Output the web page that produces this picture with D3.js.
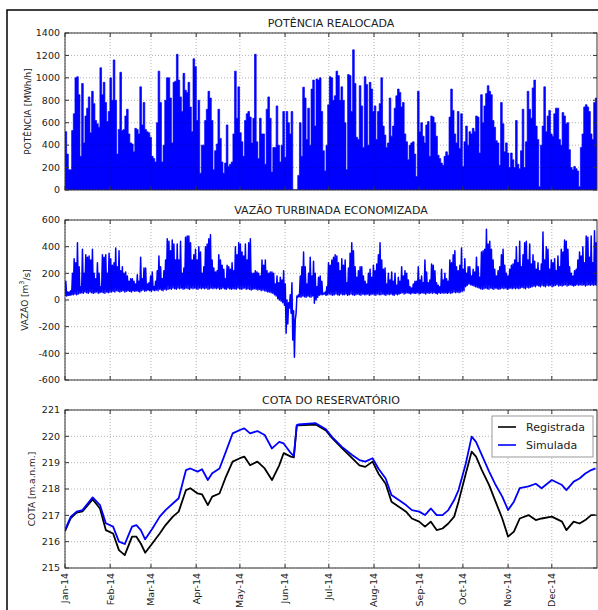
<!DOCTYPE html>
<html><head><meta charset="utf-8">
<script src="https://cdn.jsdelivr.net/npm/d3@7"></script>
<style>
body{margin:0;background:#fff}
text{font-family:"DejaVu Sans",sans-serif;fill:#222}
</style></head><body>
<svg id="fig" width="598" height="610"></svg>
<script>
// Período da simulação
const inicio = new Date(2014, 0, 1), fim = new Date(2015, 0, 1);
const rotulosMeses = ["Jan-14","Feb-14","Mar-14","Apr-14","May-14","Jun-14","Jul-14","Aug-14","Sep-14","Oct-14","Nov-14","Dec-14"];

// Potência realocada [MWh/h], amostras igualmente espaçadas no ano
const potencia = [
520,320,180,180,530,680,1000,1010,850,300,
950,420,660,730,830,510,880,770,620,590,
560,1090,850,960,780,610,700,1000,800,1160,
800,320,540,1050,530,540,660,720,500,420,
410,340,550,540,500,920,580,780,540,520,
510,470,300,280,250,600,1060,780,250,400,
800,1000,1000,820,420,960,970,1210,980,830,
700,1040,890,870,960,740,520,1170,1100,620,
800,150,400,400,620,720,880,820,620,180,
350,410,720,460,250,150,240,580,210,230,
250,500,1060,640,920,510,430,300,620,680,
700,650,420,640,1210,430,280,640,500,500,
230,720,830,640,160,380,380,750,400,250,
400,700,290,700,600,500,700,0,0,0,
130,
600,300,917,820,450,730,400,900,980,570,
990,980,1000,700,350,170,400,760,1010,1000,
800,840,1060,1020,800,920,800,600,180,1030,
1020,700,1250,950,470,450,930,750,380,1010,
940,400,960,900,700,750,450,700,770,1000,
570,490,380,420,820,480,570,730,840,900,
870,740,780,500,430,270,400,420,430,320,
120,880,520,600,480,420,580,610,300,660,
650,600,480,310,280,240,220,300,340,310,
650,900,710,500,420,700,370,680,210,430,
570,400,520,500,550,520,660,650,330,850,
600,750,860,930,880,850,620,560,440,420,
220,780,590,340,420,330,200,330,270,200,
620,230,190,350,720,200,430,880,720,640,
910,980,570,450,30,400,570,920,520,660,
710,500,480,680,730,730,450,400,690,660,
590,600,360,200,180,210,190,170,30,380,
500,740,760,740,700,500,450,780,820,800
];

// Vazão turbinada economizada [m³/s]: máximo e mínimo em cada amostra
const vazaoMax = [
140,60,60,70,200,310,280,430,250,100,
380,200,340,320,330,300,380,200,160,280,
200,100,340,320,340,200,350,310,260,280,
390,250,370,220,250,200,210,180,140,160,
160,140,120,190,140,320,160,240,240,120,
130,180,210,100,140,220,330,250,160,220,
300,460,440,370,450,420,300,420,300,440,
200,240,470,480,480,430,300,340,380,300,
400,360,200,250,400,420,460,490,300,240,
210,220,340,300,260,230,160,260,250,230,
280,220,400,340,430,420,360,330,420,300,
430,460,200,200,220,210,200,180,300,260,
300,220,200,210,210,200,120,180,130,170,
150,220,120,0,-20,40,130,-80,-150,30,
40,
180,250,360,250,120,200,320,180,290,200,
100,170,180,140,50,60,100,280,260,300,
320,340,330,280,220,310,260,300,130,240,
350,430,370,250,170,220,250,250,180,140,
120,200,230,170,260,220,270,340,430,300,
230,240,120,200,150,210,140,200,110,170,
140,250,180,220,200,150,100,90,120,140,
140,250,150,180,130,300,210,130,150,270,
260,220,130,110,100,230,150,200,160,140,
300,280,340,370,250,220,260,390,230,310,
200,250,250,180,230,210,320,250,170,360,
370,380,530,420,440,380,300,230,180,220,
250,340,380,260,200,180,230,260,270,300,
400,280,440,250,340,430,440,300,420,270,
340,290,230,280,220,270,510,300,400,380,
230,300,280,310,220,330,250,380,360,450,
440,380,250,200,180,220,230,300,360,330,
400,280,480,470,320,480,280,520,430,550
];
const vazaoMin = [
30,30,35,35,40,40,45,40,45,50,
55,50,60,55,50,60,55,50,55,60,
50,55,60,55,50,60,55,60,60,65,
60,70,65,60,65,70,60,65,70,65,
60,70,65,70,65,60,70,75,65,70,
75,70,65,75,70,75,70,80,75,70,
80,75,80,85,80,90,85,80,90,85,
90,80,85,90,85,80,90,85,90,85,
80,90,85,90,85,90,80,85,90,85,
90,85,90,80,85,90,85,80,90,85,
80,85,85,80,90,85,80,85,90,80,
85,80,75,80,85,80,75,80,70,75,
70,65,60,60,55,50,40,30,10,0,
-10,-20,-40,-250,-180,-60,-100,-300,-430,-100,
20,
25,20,30,25,20,30,25,20,30,-25,
0,20,35,40,40,45,35,40,45,40,
35,40,45,40,35,45,40,40,45,35,
40,45,40,35,40,45,40,35,45,40,
40,45,35,40,45,40,35,45,40,40,
45,40,35,45,40,45,40,35,45,40,
45,50,55,45,50,55,50,45,55,50,
50,55,45,50,55,50,45,55,50,55,
50,55,50,45,55,50,55,50,55,50,
55,50,55,60,55,60,55,60,65,70,
100,110,120,115,110,105,100,95,90,85,
80,85,90,85,80,90,85,80,90,85,
80,85,90,85,90,80,85,90,85,90,
85,90,85,90,95,90,85,95,90,95,
100,105,100,110,105,100,110,105,100,110,
105,110,100,105,110,115,105,110,105,110,
115,105,110,115,110,105,110,115,110,115,
110,115,105,110,115,110,115,110,115,110
];

// Cota do reservatório [m.a.n.m.]
const cotaDatas = [
"2014-01-01","2014-01-05","2014-01-09","2014-01-13","2014-01-20","2014-01-25","2014-01-29",
"2014-02-03","2014-02-07","2014-02-11","2014-02-16","2014-02-19","2014-02-22","2014-02-25",
"2014-03-02","2014-03-07","2014-03-11","2014-03-16","2014-03-20","2014-03-25","2014-03-28",
"2014-04-02","2014-04-05","2014-04-09","2014-04-12","2014-04-17","2014-04-21","2014-04-26",
"2014-05-01","2014-05-04","2014-05-08","2014-05-13","2014-05-18","2014-05-23","2014-05-28","2014-05-31",
"2014-06-05","2014-06-07","2014-06-09","2014-06-10","2014-06-22","2014-06-29",
"2014-07-03","2014-07-10","2014-07-17","2014-07-22","2014-07-26","2014-07-31",
"2014-08-04","2014-08-09","2014-08-13","2014-08-18","2014-08-23","2014-08-27",
"2014-09-01","2014-09-05","2014-09-09","2014-09-13","2014-09-17","2014-09-21","2014-09-25","2014-09-28",
"2014-10-03","2014-10-07","2014-10-10","2014-10-14","2014-10-19","2014-10-23","2014-10-28",
"2014-11-01","2014-11-05","2014-11-09","2014-11-15","2014-11-20","2014-11-24",
"2014-12-01","2014-12-08","2014-12-11","2014-12-16","2014-12-20","2014-12-24","2014-12-28","2014-12-31"
];
const cotaSimulada = [
216.44,216.95,217.14,217.20,217.68,217.39,216.70,
216.57,216.00,215.91,216.57,216.63,216.44,216.09,
216.50,216.95,217.20,217.45,217.65,218.72,218.78,
218.66,218.75,218.34,218.60,218.78,219.36,220.11,
220.24,220.30,220.11,220.20,220.05,219.54,219.79,219.73,
219.36,219.25,220.43,220.45,220.50,220.27,
219.99,219.60,219.29,219.10,219.04,219.17,
218.78,218.40,217.77,217.58,217.39,217.20,
217.14,217.01,217.26,217.01,217.01,217.20,217.58,217.96,
218.97,219.99,219.79,219.29,218.66,218.20,217.71,
217.20,217.52,218.03,218.10,218.20,218.03,
218.34,218.15,217.96,218.28,218.40,218.59,218.72,218.78
];
const cotaRegistrada = [
216.40,216.90,217.10,217.15,217.60,217.26,216.44,
216.31,215.68,215.49,216.19,216.19,215.93,215.58,
215.94,216.31,216.63,216.95,217.14,217.96,218.03,
217.83,217.80,217.39,217.71,217.83,218.41,219.04,
219.17,219.23,218.90,219.04,218.78,218.34,218.90,219.36,
219.23,219.20,220.40,220.42,220.45,220.22,
219.95,219.55,219.17,218.90,218.84,219.04,
218.59,218.20,217.52,217.33,217.14,216.88,
216.76,216.57,216.76,216.44,216.50,216.69,216.95,217.52,
218.59,219.42,219.23,218.72,218.15,217.58,216.88,
216.19,216.38,216.88,217.01,216.82,216.88,
216.95,216.76,216.44,216.76,216.69,216.82,217.01,217.01
];

const ticksPotencia = [0,200,400,600,800,1000,1200,1400];
const ticksVazao = [-600,-400,-200,0,200,400,600];
const ticksCota = [215,216,217,218,219,220,221];

const svg = d3.select("#fig");
const esq = 65, dir = 597;
const meses = d3.range(12).map(m => new Date(2014, m, 1));
const x = d3.scaleTime().domain([inicio, fim]).range([esq, dir]);
const passo = (fim - inicio) / (potencia.length - 1);
const tAmostra = i => new Date(+inicio + i * passo);

// moldura da figura
svg.append("rect").attr("x", 7).attr("y", 10).attr("width", 700).attr("height", 700)
  .attr("fill", "none").attr("stroke", "#000").attr("stroke-width", 1.5);

function painel(id, topo, base, dominio, ticks, titulo, rotulo, xRotulo) {
  const y = d3.scaleLinear().domain(dominio).range([base, topo]);
  const g = svg.append("g");
  g.append("clipPath").attr("id", "clip-" + id).append("rect")
    .attr("x", esq).attr("y", topo).attr("width", dir - esq).attr("height", base - topo);
  const dados = g.append("g").attr("clip-path", `url(#clip-${id})`);
  const grade = g.append("g").attr("stroke", "#000").attr("stroke-opacity", 0.3)
    .attr("stroke-dasharray", "1,2").attr("stroke-width", 1);
  ticks.forEach(v => grade.append("line").attr("x1", esq).attr("x2", dir)
    .attr("y1", y(v)).attr("y2", y(v)));
  meses.forEach(m => grade.append("line").attr("x1", x(m)).attr("x2", x(m))
    .attr("y1", topo).attr("y2", base));
  const eixos = g.append("g").attr("stroke", "#333").attr("stroke-width", 1);
  ticks.forEach(v => {
    eixos.append("line").attr("x1", esq).attr("x2", esq + 4).attr("y1", y(v)).attr("y2", y(v));
    eixos.append("line").attr("x1", dir - 4).attr("x2", dir).attr("y1", y(v)).attr("y2", y(v));
  });
  meses.forEach(m => {
    eixos.append("line").attr("x1", x(m)).attr("x2", x(m)).attr("y1", base).attr("y2", base - 4);
    eixos.append("line").attr("x1", x(m)).attr("x2", x(m)).attr("y1", topo).attr("y2", topo + 4);
  });
  eixos.append("rect").attr("x", esq).attr("y", topo).attr("width", dir - esq)
    .attr("height", base - topo).attr("fill", "none");
  g.selectAll("text.tick").data(ticks).join("text").attr("class", "tick")
    .attr("x", esq - 5).attr("y", d => y(d)).attr("dy", "0.35em")
    .attr("text-anchor", "end").attr("font-size", 9.5).text(d => d);
  g.append("text").attr("x", (esq + dir) / 2).attr("y", topo - 6)
    .attr("text-anchor", "middle").attr("font-size", 11).text(titulo);
  const r = g.append("text").attr("transform", `translate(${xRotulo},${(topo + base) / 2}) rotate(-90)`)
    .attr("dy", "0.35em").attr("text-anchor", "middle").attr("font-size", 9);
  rotulo(r);
  return { y, dados, g };
}

// Painel 1: potência realocada
const p1 = painel("p1", 33, 190, [0, 1400], ticksPotencia, "POTÊNCIA REALOCADA",
  t => t.text("POTÊNCIA [MWh/h]"), 27.5);
p1.dados.append("path").datum(potencia)
  .attr("fill", "#0000ff").attr("stroke", "#0000ff").attr("stroke-width", 0.7)
  .attr("d", d3.area().curve(d3.curveStepAfter)
    .x((d, i) => x(tAmostra(i))).y0(p1.y(0)).y1(d => p1.y(d)));

// Painel 2: vazão turbinada economizada
const p2 = painel("p2", 220, 380, [-600, 600], ticksVazao, "VAZÃO TURBINADA ECONOMIZADA",
  t => { t.append("tspan").text("VAZÃO [m");
         t.append("tspan").attr("font-size", 6.5).attr("dy", "-0.6em").text("3");
         t.append("tspan").attr("dy", "0.6em").text("/s]"); }, 25);
const pontosVazao = [];
vazaoMin.forEach((v, i) => {
  pontosVazao.push([tAmostra(i), v]);
  pontosVazao.push([new Date(+tAmostra(i) + passo / 2), vazaoMax[i]]);
});
p2.dados.append("path").datum(pontosVazao)
  .attr("fill", "none").attr("stroke", "#0000ff").attr("stroke-width", 1.5)
  .attr("stroke-linejoin", "round")
  .attr("d", d3.line().x(d => x(d[0])).y(d => p2.y(d[1])));

// Painel 3: cota do reservatório
const p3 = painel("p3", 410, 568, [215, 221], ticksCota, "COTA DO RESERVATÓRIO",
  t => t.text("COTA [m.a.n.m.]"), 32);
const parse = d3.timeParse("%Y-%m-%d");
const datas = cotaDatas.map(parse);
const linhaCota = d3.line().x((d, i) => x(datas[i])).y(d => p3.y(d));
p3.dados.append("path").datum(cotaRegistrada).attr("fill", "none")
  .attr("stroke", "#000").attr("stroke-width", 1.8).attr("stroke-linejoin", "round").attr("d", linhaCota);
p3.dados.append("path").datum(cotaSimulada).attr("fill", "none")
  .attr("stroke", "#0000ff").attr("stroke-width", 1.8).attr("stroke-linejoin", "round").attr("d", linhaCota);

// rótulos do eixo de tempo
svg.selectAll("text.mes").data(meses).join("text").attr("class", "mes")
  .attr("transform", d => `translate(${x(d)},573) rotate(-90)`)
  .attr("dy", "0.35em").attr("text-anchor", "end").attr("font-size", 9.5)
  .text((d, i) => rotulosMeses[i]);

// legenda
const leg = svg.append("g");
leg.append("rect").attr("x", 492).attr("y", 416).attr("width", 101).attr("height", 41)
  .attr("fill", "#fff").attr("stroke", "#999").attr("stroke-width", 1);
[["Registrada", "#000"], ["Simulada", "#0000ff"]].forEach(([nome, cor], k) => {
  const yy = 427 + k * 18;
  leg.append("line").attr("x1", 498).attr("x2", 516).attr("y1", yy).attr("y2", yy)
    .attr("stroke", cor).attr("stroke-width", 1.6);
  leg.append("text").attr("x", 526).attr("y", yy).attr("dy", "0.35em")
    .attr("font-size", 11).text(nome);
});
</script></body></html>
